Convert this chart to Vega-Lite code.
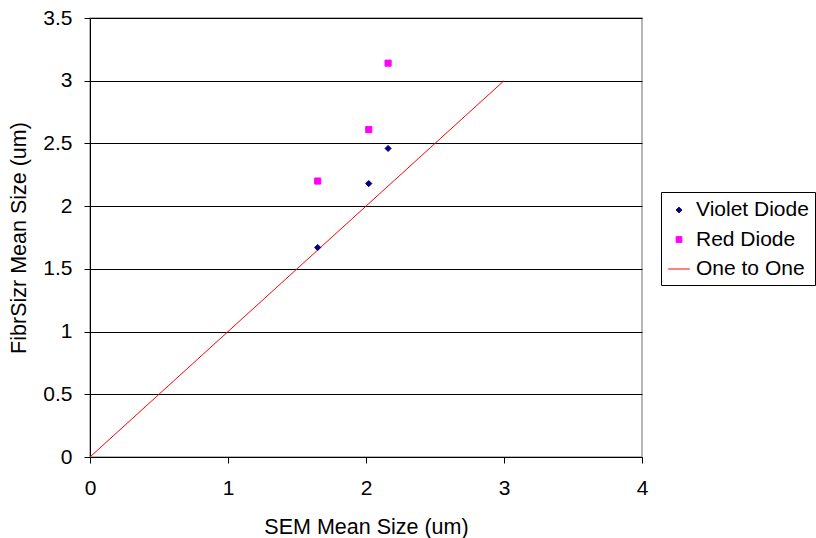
{
  "$schema": "https://vega.github.io/schema/vega-lite/v6.json",
  "width": 552,
  "height": 439,
  "autosize": {"type": "none"},
  "padding": {"left": 90, "top": 18, "right": 174, "bottom": 81},
  "background": "white",
  "config": {
    "font": "Liberation Sans",
    "view": {"stroke": "#a0a0a0", "strokeWidth": 1.5},
    "axis": {
      "labelFont": "Liberation Sans",
      "titleFont": "Liberation Sans",
      "labelColor": "black",
      "titleColor": "black",
      "labelFontSize": 21,
      "titleFontSize": 21.5,
      "titleFontWeight": "normal",
      "domainColor": "black",
      "tickColor": "black",
      "tickSize": 6,
      "gridColor": "black",
      "gridOpacity": 1,
      "labelFlush": false
    },
    "legend": {
      "labelFont": "Liberation Sans",
      "labelFontSize": 21,
      "labelColor": "black",
      "symbolSize": 529,
      "symbolStrokeWidth": 1
    }
  },
  "datasets": {
    "pts": [
      {"series": "Violet Diode", "sem": 1.65, "fibr": 1.67},
      {"series": "Violet Diode", "sem": 2.02, "fibr": 2.18},
      {"series": "Violet Diode", "sem": 2.16, "fibr": 2.46},
      {"series": "Red Diode", "sem": 1.65, "fibr": 2.2},
      {"series": "Red Diode", "sem": 2.02, "fibr": 2.61},
      {"series": "Red Diode", "sem": 2.16, "fibr": 3.14}
    ],
    "line": [
      {"series": "One to One", "sem": 0, "fibr": 0},
      {"series": "One to One", "sem": 3, "fibr": 3}
    ]
  },
  "layer": [
    {
      "data": {"name": "line"},
      "mark": {"type": "line", "color": "#FF0000", "strokeWidth": 1},
      "encoding": {
        "x": {"field": "sem", "type": "quantitative"},
        "y": {"field": "fibr", "type": "quantitative"}
      }
    },
    {
      "data": {"name": "pts"},
      "mark": {"type": "point", "filled": false, "opacity": 1, "strokeWidth": 1, "size": 600},
      "encoding": {
        "x": {
          "field": "sem",
          "type": "quantitative",
          "scale": {"domain": [0, 4], "nice": false},
          "axis": {
            "values": [0, 1, 2, 3, 4],
            "grid": false,
            "format": "~g",
            "labelPadding": 14,
            "titlePadding": 18,
            "title": "SEM Mean Size (um)"
          }
        },
        "y": {
          "field": "fibr",
          "type": "quantitative",
          "scale": {"domain": [0, 3.5], "nice": false},
          "axis": {
            "values": [0, 0.5, 1, 1.5, 2, 2.5, 3, 3.5],
            "grid": true,
            "format": "~g",
            "labelPadding": 12,
            "titlePadding": 12,
            "title": "FibrSizr Mean Size (um)"
          }
        },
        "fill": {
          "field": "series",
          "type": "nominal",
          "scale": {
            "domain": ["Violet Diode", "Red Diode", "One to One"],
            "range": ["#000080", "#FF00FF", "#FF0000"]
          },
          "legend": {
            "title": null,
            "orient": "none",
            "legendX": 571,
            "legendY": 174,
            "strokeColor": "black",
            "fillColor": "white",
            "padding": 6,
            "rowPadding": 7.5,
            "symbolOffset": 0,
            "labelOffset": 5
          }
        },
        "stroke": {
          "field": "series",
          "type": "nominal",
          "scale": {
            "domain": ["Violet Diode", "Red Diode", "One to One"],
            "range": ["#000080", "#FF00FF", "#FF0000"]
          },
          "legend": {
            "title": null,
            "orient": "none",
            "legendX": 571,
            "legendY": 174,
            "strokeColor": "black",
            "fillColor": "white",
            "padding": 6,
            "rowPadding": 7.5,
            "symbolOffset": 0,
            "labelOffset": 5
          }
        },
        "shape": {
          "field": "series",
          "type": "nominal",
          "scale": {
            "domain": ["Violet Diode", "Red Diode", "One to One"],
            "range": ["M0,-0.25L0.25,0L0,0.25L-0.25,0Z", "M-0.25,-0.25H0.25V0.25H-0.25Z", "M-0.94,0H0.94"]
          },
          "legend": {
            "title": null,
            "orient": "none",
            "legendX": 571,
            "legendY": 174,
            "strokeColor": "black",
            "fillColor": "white",
            "padding": 6,
            "rowPadding": 7.5,
            "symbolOffset": 0,
            "labelOffset": 5
          }
        }
      }
    }
  ]
}
